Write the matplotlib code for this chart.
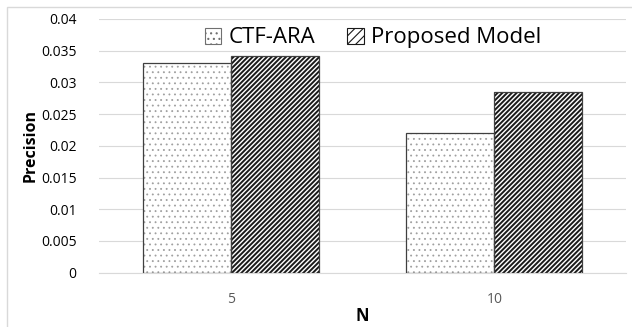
import numpy as np
import matplotlib
matplotlib.use("Agg")
import matplotlib.pyplot as plt
from matplotlib.patches import Rectangle, Patch

# precision at top-N
categories = ["5", "10"]
ctf_ara = [0.033, 0.022]
proposed = [0.0341, 0.0285]

plt.rcParams['font.family'] = ['Open Sans', 'DejaVu Sans']

fig = plt.figure(figsize=(6.32, 3.27), dpi=100)
ax = fig.add_axes([0.1566, 0.166, 0.834, 0.776])

x = np.arange(len(categories))
w = 0.334

# hatch fills first (hatch width is picked up when each patch is made), outlines on top
plt.rcParams['hatch.linewidth'] = 0.6
ax.bar(x - w / 2, ctf_ara, w, color="white", edgecolor="#a0a0a0", hatch="...", linewidth=0, zorder=2)
plt.rcParams['hatch.linewidth'] = 1.4
ax.bar(x + w / 2, proposed, w, color="white", edgecolor="#1a1a1a", hatch="///////", linewidth=0, zorder=2)
ax.bar(x - w / 2, ctf_ara, w, fill=False, edgecolor="#404040", linewidth=0.9, zorder=3)
ax.bar(x + w / 2, proposed, w, fill=False, edgecolor="#404040", linewidth=0.9, zorder=3)

ax.set_xlim(-0.5, 1.5)
ax.set_ylim(0, 0.04)
ax.set_yticks([0, 0.005, 0.01, 0.015, 0.02, 0.025, 0.03, 0.035, 0.04])
ax.set_yticklabels(["0", "0.005", "0.01", "0.015", "0.02", "0.025", "0.03", "0.035", "0.04"])
ax.set_xticks(x)
ax.set_xticklabels(categories, color="#595959")
ax.tick_params(axis="both", length=0, labelsize=10)
ax.tick_params(axis="y", pad=16)
ax.tick_params(axis="x", pad=14)

ax.grid(axis="y", color="#d9d9d9", linewidth=0.8, zorder=0)
ax.set_axisbelow(True)
for s in ["left", "right", "top"]:
    ax.spines[s].set_visible(False)
ax.spines["bottom"].set_color("#d9d9d9")

ax.set_ylabel("Precision", fontweight="bold", fontsize=11.5, labelpad=2)
ax.set_xlabel("N", fontweight="bold", fontsize=12, labelpad=0)

plt.rcParams['hatch.linewidth'] = 0.8
handles = [
    Patch(facecolor="white", edgecolor="#707070", hatch="...", linewidth=0.8, label="CTF-ARA"),
    Patch(facecolor="white", edgecolor="#1a1a1a", hatch="////", linewidth=0.8, label="Proposed Model"),
]
ax.legend(handles=handles, loc="center", bbox_to_anchor=(0.52, 0.925), ncol=2,
          frameon=False, fontsize=16, handlelength=0.75, handleheight=0.75,
          handletextpad=0.35, columnspacing=1.4, borderpad=0)

# outer chart frame
fig.add_artist(Rectangle((0.011, -0.1), 1.2, 1.08, transform=fig.transFigure,
                         fill=False, edgecolor="#d9d9d9", linewidth=1.0))

fig.savefig("out.png", dpi=100)
